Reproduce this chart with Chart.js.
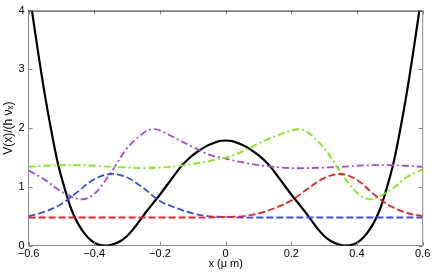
<!DOCTYPE html>
<html>
<head>
<meta charset="utf-8">
<script src="https://cdn.jsdelivr.net/npm/chart.js@4"></script>
<style>
  html, body { margin: 0; padding: 0; background: #fff; }
  #wrap { width: 436px; height: 273px; }
</style>
</head>
<body>
<div id="wrap"><canvas id="chart" width="436" height="273"></canvas></div>
<script>
// potential (black)
const potX = [-0.595, -0.57, -0.55, -0.53, -0.51, -0.49, -0.47, -0.45, -0.43, -0.41, -0.39, -0.365,
  -0.34, -0.32, -0.30, -0.28, -0.26, -0.24, -0.22, -0.20, -0.18, -0.16, -0.14, -0.12, -0.10, -0.08,
  -0.06, -0.04, -0.02, 0, 0.02, 0.04, 0.06, 0.08, 0.10, 0.12, 0.14, 0.16, 0.18, 0.20, 0.22, 0.24,
  0.26, 0.28, 0.30, 0.32, 0.34, 0.365, 0.39, 0.41, 0.43, 0.45, 0.47, 0.49, 0.51, 0.53, 0.55, 0.57, 0.595];
const potY = [4.2, 3.25, 2.55, 1.93, 1.38, 0.97, 0.62, 0.38, 0.21, 0.09, 0.025, 0.0,
  0.03, 0.08, 0.165, 0.29, 0.44, 0.59, 0.73, 0.87, 1.02, 1.17, 1.32, 1.44, 1.54, 1.62,
  1.69, 1.74, 1.78, 1.79, 1.78, 1.74, 1.69, 1.62, 1.54, 1.44, 1.32, 1.17, 1.02, 0.87, 0.73, 0.59,
  0.44, 0.29, 0.165, 0.08, 0.03, 0.0, 0.025, 0.09, 0.21, 0.38, 0.62, 0.97, 1.38, 1.93, 2.55, 3.25, 4.2];

// lower pair (dashed)
const lowX = [-0.6, -0.55, -0.5, -0.45, -0.4, -0.35, -0.3, -0.25, -0.2, -0.15, -0.1, -0.05, 0,
  0.05, 0.1, 0.15, 0.2, 0.25, 0.3, 0.35, 0.4, 0.45, 0.5, 0.55, 0.6];
const blueY = [0.50, 0.58, 0.71, 0.92, 1.13, 1.22, 1.16, 0.98, 0.76, 0.64, 0.55, 0.50, 0.49,
  0.48, 0.48, 0.48, 0.48, 0.48, 0.48, 0.48, 0.48, 0.48, 0.48, 0.48, 0.48];
const redY = [0.48, 0.48, 0.48, 0.48, 0.48, 0.48, 0.48, 0.48, 0.48, 0.48, 0.48, 0.48, 0.49,
  0.50, 0.55, 0.64, 0.77, 0.97, 1.15, 1.22, 1.12, 0.88, 0.68, 0.56, 0.50];

// upper pair (dash-dot)
const greenX = [-0.6, -0.55, -0.5, -0.45, -0.4, -0.35, -0.3, -0.25, -0.2, -0.15, -0.1, -0.05, 0,
  0.05, 0.1, 0.15, 0.2, 0.225, 0.25, 0.3, 0.35, 0.4, 0.44, 0.5, 0.55, 0.6];
const greenY = [1.34, 1.36, 1.37, 1.37, 1.36, 1.34, 1.33, 1.32, 1.33, 1.35, 1.39, 1.44, 1.50,
  1.60, 1.74, 1.86, 1.96, 1.98, 1.93, 1.66, 1.25, 0.90, 0.79, 0.94, 1.16, 1.30];
const purpleX = [-0.6, -0.55, -0.5, -0.44, -0.4, -0.35, -0.3, -0.25, -0.225, -0.2, -0.15, -0.1, -0.05,
  0, 0.05, 0.1, 0.15, 0.2, 0.25, 0.3, 0.35, 0.4, 0.45, 0.5, 0.55, 0.6];
const purpleY = [1.28, 1.12, 0.92, 0.79, 0.88, 1.24, 1.66, 1.92, 1.98, 1.96, 1.82, 1.68, 1.55,
  1.48, 1.42, 1.37, 1.34, 1.32, 1.32, 1.33, 1.34, 1.36, 1.37, 1.37, 1.36, 1.34];

const xTicks = [-0.6, -0.4, -0.2, 0, 0.2, 0.4, 0.6];
const xTickLabels = ['\u22120.6', '\u22120.4', '\u22120.2', '0', '0.2', '0.4', '0.6'];
const yTicks = [0, 1, 2, 3, 4];

const pts = (xs, ys) => xs.map((x, i) => ({ x: x, y: ys[i] }));

const series = (label, xs, ys, color, width, dash) => ({
  label: label,
  data: pts(xs, ys),
  borderColor: color,
  borderWidth: width,
  borderDash: dash,
  pointRadius: 0,
  fill: false,
  tension: 0.35
});

// MATLAB style box: inward ticks on all four sides, dark top edge
const boxTicks = {
  id: 'boxTicks',
  afterDraw(chart) {
    const { ctx, chartArea: a, scales } = chart;
    ctx.save();
    ctx.lineWidth = 1;
    ctx.strokeStyle = '#8a8a8a';
    ctx.beginPath();
    xTicks.forEach(v => {
      const px = Math.round(scales.x.getPixelForValue(v)) + 0.5;
      ctx.moveTo(px, a.bottom); ctx.lineTo(px, a.bottom - 4);
      ctx.moveTo(px, a.top); ctx.lineTo(px, a.top + 4);
    });
    yTicks.forEach(v => {
      const py = Math.round(scales.y.getPixelForValue(v)) + 0.5;
      ctx.moveTo(a.left, py); ctx.lineTo(a.left + 4, py);
      ctx.moveTo(a.right, py); ctx.lineTo(a.right - 4, py);
    });
    ctx.moveTo(a.right, a.top); ctx.lineTo(a.right, a.bottom);
    ctx.stroke();
    ctx.strokeStyle = '#222';
    ctx.beginPath();
    ctx.moveTo(a.left, a.top + 0.5); ctx.lineTo(a.right, a.top + 0.5);
    ctx.stroke();
    ctx.restore();
  }
};

const font = { family: 'Liberation Sans, Arial, sans-serif', size: 11 };

new Chart(document.getElementById('chart').getContext('2d'), {
  type: 'line',
  data: {
    datasets: [
      series('red', lowX, redY, '#ff1a1a', 1.8, [7, 3]),
      series('blue', lowX, blueY, '#2f4dff', 1.8, [7, 3]),
      series('green', greenX, greenY, '#7ff000', 1.8, [7, 3, 2, 3]),
      series('purple', purpleX, purpleY, '#a448ee', 1.8, [7, 3, 2, 3]),
      series('V(x)', potX, potY, '#000000', 2.2, [])
    ]
  },
  options: {
    responsive: false,
    animation: false,
    layout: { padding: { top: 8, right: 13.3, left: 0, bottom: 0 } },
    plugins: { legend: { display: false }, tooltip: { enabled: false } },
    scales: {
      x: {
        type: 'linear',
        min: -0.6,
        max: 0.6,
        afterBuildTicks: s => { s.ticks = xTicks.map(v => ({ value: v })); },
        afterFit: s => { s.height = 27.3; },
        grid: { display: false, drawTicks: false },
        border: { display: true, color: '#8a8a8a', width: 1 },
        ticks: {
          padding: 2,
          color: '#000',
          font: font,
          maxRotation: 0,
          callback: v => xTickLabels[xTicks.indexOf(v)]
        },
        title: { display: true, text: 'x (\u03bc m)', color: '#000', font: font, padding: { top: 0, bottom: 2 } }
      },
      y: {
        min: 0,
        max: 4,
        afterBuildTicks: s => { s.ticks = yTicks.map(v => ({ value: v })); },
        afterFit: s => { s.width = 28.6; },
        grid: { display: false, drawTicks: false },
        border: { display: true, color: '#8a8a8a', width: 1 },
        ticks: { padding: 4, color: '#000', font: font },
        title: { display: true, text: 'V(x)/(h \u03bd\u2093)', color: '#000', font: { family: font.family, size: 12 }, padding: { top: 1, bottom: 0 } }
      }
    }
  },
  plugins: [boxTicks]
});
</script>
</body>
</html>
